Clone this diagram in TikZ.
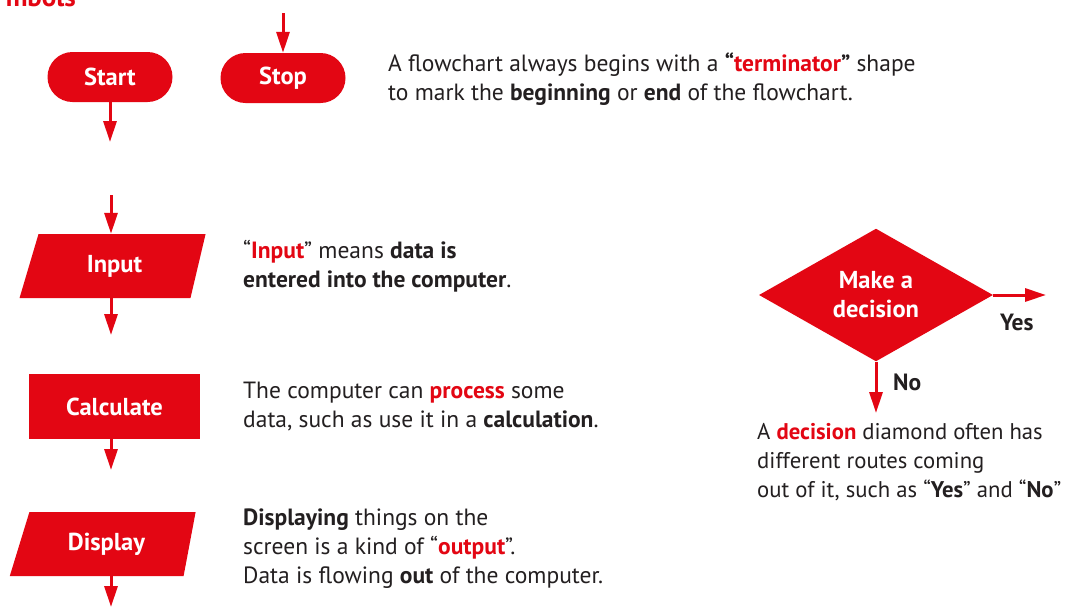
\documentclass[tikz,border=0pt]{standalone}
\usepackage{fontspec}
\setmainfont{PT Sans}
\usetikzlibrary{arrows.meta,shapes.geometric}
\definecolor{fred}{HTML}{E30613}
\definecolor{ftext}{HTML}{231F20}
\begin{document}
\begin{tikzpicture}[x=1pt,y=-1pt,
  arr/.style={draw=fred, line width=3pt, -{Triangle[length=21pt,width=13pt]}},
  shapefont/.style={text=white, font=\bfseries\fontsize{24.5}{29}\selectfont},
  term/.style={shapefont, fill=fred, rounded corners=25pt, minimum width=125pt, minimum height=50pt, inner sep=0pt},
  proc/.style={shapefont, fill=fred, minimum width=171pt, minimum height=65pt, inner sep=0pt},
  io/.style={shapefont, fill=fred, trapezium, trapezium stretches=true, minimum height=64pt, inner sep=0pt},
  dec/.style={shapefont, fill=fred, diamond, minimum width=234pt, minimum height=130pt, inner sep=0pt, align=center},
  txt/.style={text=ftext, font=\fontsize{23.5}{28.7}\selectfont, align=left, inner sep=0pt},
  lbl/.style={text=ftext, font=\bfseries\fontsize{23.5}{28}\selectfont, inner sep=0pt}
]
\useasboundingbox (0,0) rectangle (1072,606);
\fill[white] (0,0) rectangle (1072,606);

% cut-off heading
\node[text=fred, font=\bfseries\fontsize{27}{30}\selectfont, anchor=base east, inner sep=0pt] (head) at (76,6) {mbols};

% terminators
\node[term] (start) at (110,77) {Start};
\node[term] (stop) at (283,78) {Stop};
\coordinate (stopin) at (283,13);
\coordinate (startout) at (110,142);
\draw[arr] (stopin) -- (stop);
\draw[arr] (start) -- (startout);

\node[txt, anchor=base west] (ttext) at (388,100) {A flowchart always begins with a \textbf{“\textcolor{fred}{terminator}”} shape\\to mark the \textbf{beginning} or \textbf{end} of the flowchart.};

% input
\node[io, trapezium left angle=72.6, trapezium right angle=104, minimum width=187pt] (input) at (114.5,266) {Input};
\coordinate (inputin) at (111,195);
\coordinate (inputout) at (111,335);
\draw[arr] (inputin) -- (inputin |- input.north);
\draw[arr] (inputout |- input.south) -- (inputout);
\node[txt, anchor=base west] (itext) at (243,287) {“\textbf{\textcolor{fred}{Input}}” means \textbf{data is}\\\textbf{entered into the computer}.};

% calculate
\node[proc] (calc) at (114.5,406.5) {Calculate};
\coordinate (calcout) at (111,470);
\draw[arr] (calcout |- calc.south) -- (calcout);
\node[txt, anchor=base west] (ctext) at (243,427) {The computer can \textbf{\textcolor{fred}{process}} some\\data, such as use it in a \textbf{calculation}.};

% display
\node[io, trapezium left angle=66.4, trapezium right angle=105, minimum width=187pt] (disp) at (106.5,544) {Display};
\coordinate (dispout) at (111,607);
\draw[arr] (dispout |- disp.south) -- (dispout);
\node[txt, anchor=base west] (dtext) at (243,583) {\textbf{Displaying} things on the\\screen is a kind of “\textbf{\textcolor{fred}{output}}”.\\Data is flowing \textbf{out} of the computer.};

% decision
\node[dec] (dec) at (876,295) {Make a\\decision};
\coordinate (yesend) at (1046,295);
\coordinate (noend) at (876,413);
\draw[arr] (dec.east) -- (yesend);
\draw[arr] (dec.south) -- (noend);
\node[lbl, anchor=base west] (yes) at (1000,330) {Yes};
\node[lbl, anchor=base west] (no) at (893,390) {No};
\node[txt, font=\fontsize{22.7}{28.7}\selectfont, anchor=base west] (dectext) at (757,497) {A \textbf{\textcolor{fred}{decision}} diamond often has\\different routes coming\\out of it, such as “\textbf{Yes}” and “\textbf{No}”};
\end{tikzpicture}
\end{document}
